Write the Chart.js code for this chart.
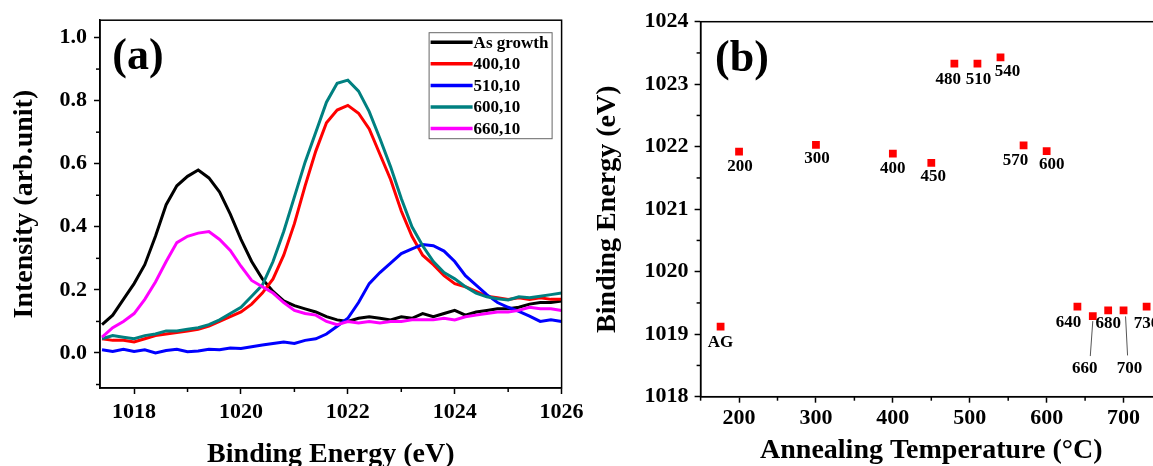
<!DOCTYPE html>
<html lang="en">
<head>
  <meta charset="UTF-8" />
  <title>XPS Binding Energy</title>
  <script src="https://cdn.jsdelivr.net/npm/chart.js"></script>
  <style>
    html, body {
      margin: 0;
      padding: 0;
      background: #fff;
      width: 1153px;
      height: 466px;
      overflow: hidden;
    }
    .panel { position: absolute; top: 0; }
    #wrapA { left: 0; width: 600px; height: 480px; }
    #wrapB { left: 570px; width: 630px; height: 480px; }
  </style>
</head>
<body>
  <div id="wrapA" class="panel"><canvas id="chartA" width="600" height="480"></canvas></div>
  <div id="wrapB" class="panel"><canvas id="chartB" width="630" height="480"></canvas></div>

  <script>
    // (a) spectra, every 0.2 eV
    const energy = [
      1017.4, 1017.6, 1017.8, 1018.0, 1018.2, 1018.4, 1018.6, 1018.8, 1019.0, 1019.2, 1019.4,
      1019.6, 1019.8, 1020.0, 1020.2, 1020.4, 1020.6, 1020.8, 1021.0, 1021.2, 1021.4, 1021.6,
      1021.8, 1022.0, 1022.2, 1022.4, 1022.6, 1022.8, 1023.0, 1023.2, 1023.4, 1023.6, 1023.8,
      1024.0, 1024.2, 1024.4, 1024.6, 1024.8, 1025.0, 1025.2, 1025.4, 1025.6, 1025.8, 1026.0
    ];
    const seriesNames = ['As growth', '400,10', '510,10', '600,10', '660,10'];
    const asGrowth = [
      0.09, 0.12, 0.17, 0.22, 0.28, 0.37, 0.47, 0.53, 0.56, 0.58, 0.555,
      0.51, 0.44, 0.36, 0.29, 0.235, 0.195, 0.165, 0.15, 0.14, 0.13, 0.115,
      0.105, 0.10, 0.11, 0.115, 0.11, 0.105, 0.115, 0.11, 0.125, 0.115, 0.125,
      0.135, 0.12, 0.13, 0.135, 0.14, 0.14, 0.145, 0.155, 0.16, 0.16, 0.165
    ];
    const s400 = [
      0.045, 0.04, 0.04, 0.035, 0.045, 0.055, 0.06, 0.065, 0.07, 0.075, 0.085,
      0.10, 0.115, 0.13, 0.155, 0.19, 0.235, 0.31, 0.41, 0.53, 0.64, 0.73,
      0.77, 0.785, 0.76, 0.71, 0.63, 0.55, 0.45, 0.37, 0.31, 0.28, 0.245,
      0.22, 0.21, 0.195, 0.18, 0.175, 0.17, 0.175, 0.17, 0.175, 0.17, 0.17
    ];
    const s510 = [
      0.01, 0.005, 0.012, 0.005, 0.01, 0.0, 0.008, 0.012, 0.004, 0.006, 0.012,
      0.01, 0.016, 0.014, 0.02, 0.025, 0.03, 0.035, 0.03, 0.04, 0.045, 0.06,
      0.085, 0.11, 0.16, 0.22, 0.255, 0.285, 0.315, 0.33, 0.344, 0.34, 0.323,
      0.29, 0.245, 0.215, 0.185, 0.16, 0.145, 0.132, 0.117, 0.10, 0.105, 0.10
    ];
    const s600 = [
      0.045, 0.055, 0.05, 0.045, 0.055, 0.06, 0.07, 0.07, 0.075, 0.08, 0.09,
      0.105, 0.125, 0.145, 0.18, 0.215, 0.29, 0.385, 0.495, 0.605, 0.70, 0.795,
      0.855, 0.865, 0.83, 0.765, 0.68, 0.59, 0.49, 0.40, 0.34, 0.29, 0.255,
      0.235, 0.21, 0.19, 0.178, 0.172, 0.168, 0.178, 0.175, 0.18, 0.185, 0.19
    ];
    const s660 = [
      0.05, 0.08, 0.10, 0.125, 0.17, 0.225, 0.29, 0.35, 0.37, 0.38, 0.385,
      0.36, 0.325, 0.275, 0.23, 0.21, 0.19, 0.16, 0.135, 0.125, 0.12, 0.10,
      0.09, 0.10, 0.095, 0.10, 0.095, 0.10, 0.10, 0.105, 0.105, 0.105, 0.11,
      0.105, 0.115, 0.12, 0.125, 0.13, 0.13, 0.135, 0.145, 0.14, 0.14, 0.135
    ];
    const ticksAx = [1018, 1020, 1022, 1024, 1026];
    const ticksAy = [0, 0.2, 0.4, 0.6, 0.8, 1.0];

    // (b) peak position vs annealing temperature
    const tempLabels = ['AG', '200', '300', '400', '450', '480', '510', '540', '570', '600', '640', '660', '680', '700', '730'];
    const temps = [176, 200, 300, 400, 450, 480, 510, 540, 570, 600, 640, 660, 680, 700, 730];
    const peakEnergy = [1019.12, 1021.92, 1022.03, 1021.89, 1021.74, 1023.33, 1023.33, 1023.43, 1022.02, 1021.93, 1019.44, 1019.29, 1019.38, 1019.38, 1019.44];
    const ticksBx = [200, 300, 400, 500, 600, 700];
    const ticksBy = [1018, 1019, 1020, 1021, 1022, 1023, 1024];

    const serif = "'Liberation Serif', 'Times New Roman', serif";
    Chart.defaults.font.family = serif;
    Chart.defaults.font.weight = 'bold';
    Chart.defaults.color = '#000';

    // box, minor ticks and the (a)/(b) tag
    const framePlugin = {
      id: 'frame',
      afterDraw(chart, args, opts) {
        const { ctx, chartArea: a } = chart;
        ctx.save();
        ctx.strokeStyle = '#000';
        ctx.lineWidth = 1.5;
        ctx.strokeRect(a.left, a.top, a.right - a.left, a.bottom - a.top);

        for (const [id, step] of Object.entries(opts.minor || {})) {
          const s = chart.scales[id];
          let k = Math.ceil(s.min / step - 1e-9);
          for (; k * step <= s.max + 1e-9; k++) {
            if (k % 2 === 0) continue;
            const p = s.getPixelForValue(k * step);
            ctx.beginPath();
            if (id === 'x') {
              ctx.moveTo(p, a.bottom);
              ctx.lineTo(p, a.bottom + 4);
            } else {
              ctx.moveTo(a.left, p);
              ctx.lineTo(a.left - 4, p);
            }
            ctx.stroke();
          }
        }

        ctx.fillStyle = '#000';
        ctx.font = 'bold 44px ' + serif;
        ctx.textAlign = 'center';
        ctx.textBaseline = 'middle';
        ctx.fillText(opts.tag, a.left + opts.tagDx, a.top + opts.tagDy);
        ctx.restore();
      }
    };

    const boxLegend = {
      id: 'boxLegend',
      afterDraw(chart, args, o) {
        if (!o.show) return;
        const { ctx, chartArea: a } = chart;
        const x0 = a.right - 133, y0 = a.top + 12, w = 123, h = 106, rowH = 21.6;
        ctx.save();
        ctx.fillStyle = '#fff';
        ctx.fillRect(x0, y0, w, h);
        ctx.strokeStyle = '#666';
        ctx.lineWidth = 1;
        ctx.strokeRect(x0 + 0.5, y0 + 0.5, w, h);
        chart.data.datasets.forEach((ds, i) => {
          const y = y0 + 10 + i * rowH;
          ctx.strokeStyle = ds.borderColor;
          ctx.lineWidth = 3.5;
          ctx.beginPath();
          ctx.moveTo(x0 + 2, y);
          ctx.lineTo(x0 + 44, y);
          ctx.stroke();
          ctx.fillStyle = '#000';
          ctx.font = 'bold 17px ' + serif;
          ctx.textBaseline = 'middle';
          ctx.fillText(ds.label, x0 + 45, y + 1);
        });
        ctx.restore();
      }
    };

    const pointTags = {
      id: 'pointTags',
      afterDatasetsDraw(chart, args, o) {
        if (!o.offsets) return;
        const { ctx } = chart;
        const meta = chart.getDatasetMeta(0);
        ctx.save();
        ctx.font = 'bold 17px ' + serif;
        ctx.textAlign = 'center';
        ctx.textBaseline = 'middle';
        ctx.fillStyle = '#000';
        meta.data.forEach((pt, i) => {
          const [dx, dy] = o.offsets[i];
          const lead = o.leaders[i];
          if (lead) {
            ctx.strokeStyle = '#555';
            ctx.lineWidth = 1;
            ctx.beginPath();
            ctx.moveTo(pt.x + lead[0], pt.y + lead[1]);
            ctx.lineTo(pt.x + lead[2], pt.y + lead[3]);
            ctx.stroke();
          }
          ctx.fillText(tempLabels[i], pt.x + dx, pt.y + dy);
        });
        ctx.restore();
      }
    };

    function axisStyle(extra) {
      return Object.assign({
        type: 'linear',
        grid: { drawOnChartArea: false, drawTicks: true, tickLength: 6, tickWidth: 1.5, tickColor: '#000' },
        border: { display: true, color: '#000', width: 1.5 }
      }, extra);
    }

    const fixTicks = list => scale => { scale.ticks = list.map(v => ({ value: v })); };

    const colors = ['#000000', '#ff0000', '#0000ff', '#008080', '#ff00ff'];
    const spectra = [asGrowth, s400, s510, s600, s660];

    new Chart(document.getElementById('chartA'), {
      type: 'line',
      data: {
        datasets: spectra.map((vals, i) => ({
          label: seriesNames[i],
          data: energy.map((e, j) => ({ x: e, y: vals[j] })),
          borderColor: colors[i],
          borderWidth: 3,
          pointRadius: 0,
          tension: 0,
          fill: false,
          order: 4 - i
        }))
      },
      options: {
        responsive: false,
        animation: false,
        layout: { padding: { left: 0, right: 38.4, top: 13.3, bottom: 0 } },
        plugins: {
          legend: { display: false },
          tooltip: { enabled: false },
          frame: { tag: '(a)', tagDx: 38, tagDy: 37, minor: { x: 1, y: 0.1 } },
          boxLegend: { show: true }
        },
        scales: {
          x: axisStyle({
            min: 1017.362,
            max: 1026,
            afterBuildTicks: fixTicks(ticksAx),
            ticks: { padding: 5, maxRotation: 0, autoSkip: false,
                     font: { size: 22, weight: 'bold' }, color: '#000', callback: v => String(v) },
            title: { display: true, text: 'Binding Energy (eV)', color: '#000',
                     font: { size: 28, weight: 'bold' }, padding: { top: 0, bottom: 8.7 } },
            afterFit: s => { s.height = 92; }
          }),
          y: axisStyle({
            min: -0.111,
            max: 1.055,
            afterBuildTicks: fixTicks(ticksAy),
            ticks: { padding: 7, font: { size: 22, weight: 'bold' }, color: '#000',
                     callback: v => Number(v).toFixed(1) },
            title: { display: true, text: 'Intensity (arb.unit)', color: '#000',
                     font: { size: 28, weight: 'bold' }, padding: { top: 8, bottom: 0 } },
            afterFit: s => { s.width = 100; }
          })
        }
      },
      plugins: [framePlugin, boxLegend]
    });

    new Chart(document.getElementById('chartB'), {
      type: 'scatter',
      data: {
        datasets: [{
          label: 'Binding Energy',
          data: temps.map((t, i) => ({ x: t, y: peakEnergy[i] })),
          pointStyle: 'rect',
          pointRadius: 5.5,
          backgroundColor: '#ff0000',
          borderColor: '#ff0000',
          borderWidth: 0
        }]
      },
      options: {
        responsive: false,
        animation: false,
        layout: { padding: { left: 0, right: 38, top: 21.7, bottom: 0 } },
        plugins: {
          legend: { display: false },
          tooltip: { enabled: false },
          frame: { tag: '(b)', tagDx: 41.4, tagDy: 38, minor: { x: 50, y: 0.5 } },
          pointTags: {
            offsets: [[0, 16], [1, 15], [1, 14], [0, 15], [2, 14], [-6, 16], [1, 16], [7, 14],
                      [-8, 15], [5, 14], [-9, 15.5], [-8, 53], [0, 13.5], [6, 58], [0, 17]],
            leaders: [null, null, null, null, null, null, null, null,
                      null, null, null, [0, 5, -2.5, 40], null, [2, 6, 4, 45], null]
          }
        },
        scales: {
          x: axisStyle({
            min: 150,
            max: 750,
            afterBuildTicks: fixTicks(ticksBx),
            ticks: { padding: 2, maxRotation: 0, autoSkip: false,
                     font: { size: 22, weight: 'bold' }, color: '#000', callback: v => String(v) },
            title: { display: true, text: 'Annealing Temperature (\u00B0C)', color: '#000',
                     font: { size: 28, weight: 'bold' }, padding: { top: 0, bottom: 12.5 } },
            afterFit: s => { s.height = 83.3; }
          }),
          y: axisStyle({
            min: 1018,
            max: 1024,
            afterBuildTicks: fixTicks(ticksBy),
            ticks: { padding: 6, font: { size: 22, weight: 'bold' }, color: '#000',
                     callback: v => String(v) },
            title: { display: true, text: 'Binding Energy (eV)', color: '#000',
                     font: { size: 28, weight: 'bold' }, padding: { top: 21, bottom: 0 } },
            afterFit: s => { s.width = 130.6; }
          })
        }
      },
      plugins: [framePlugin, pointTags]
    });
  </script>
</body>
</html>
